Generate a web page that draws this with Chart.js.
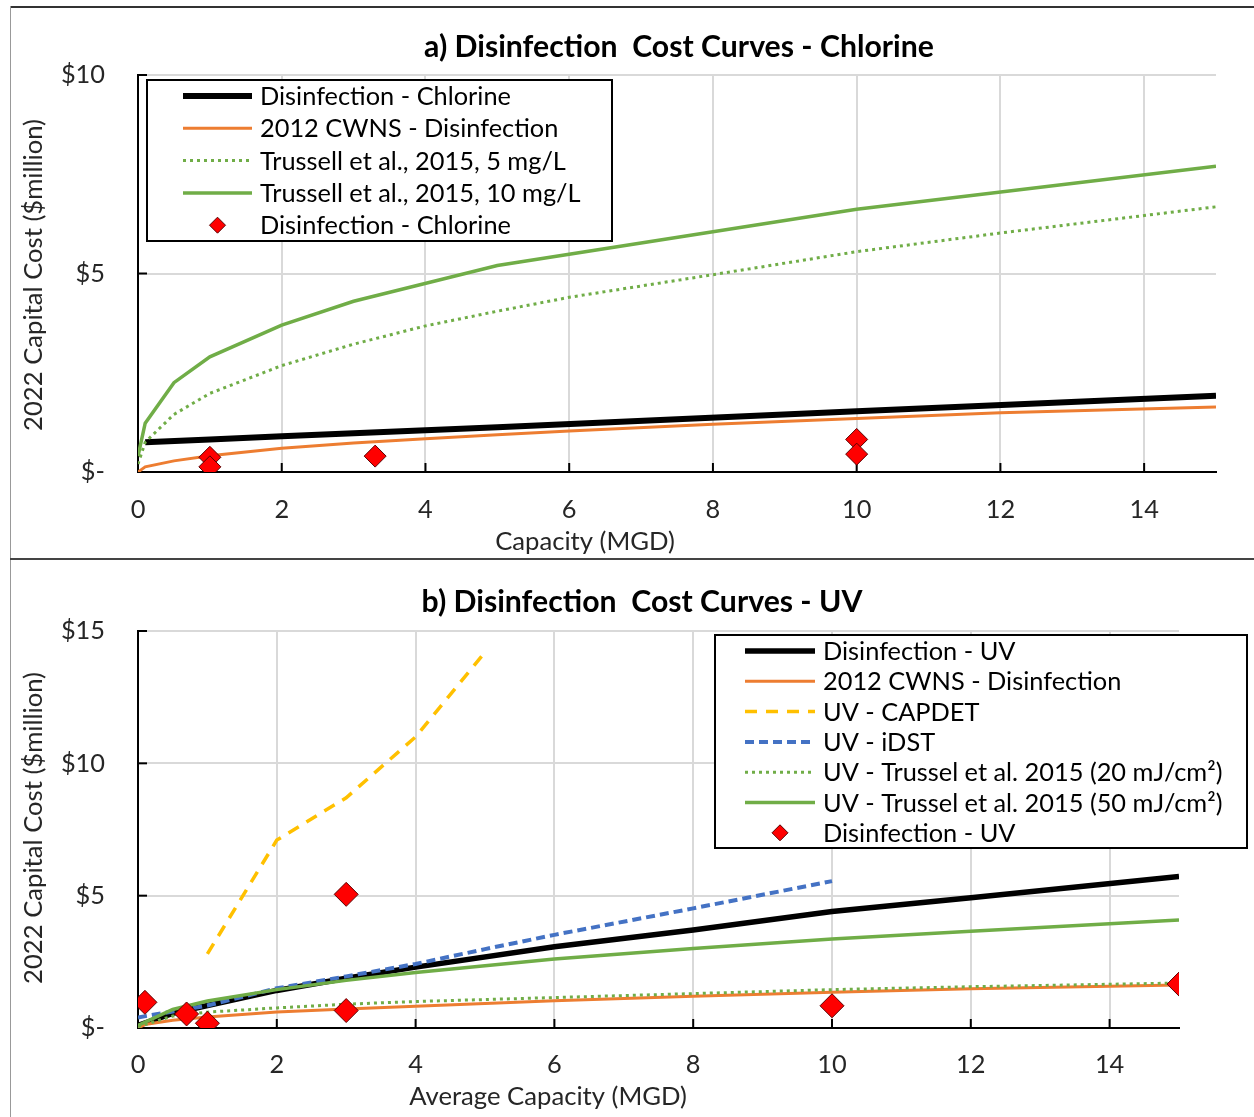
<!DOCTYPE html>
<html>
<head>
<meta charset="utf-8">
<script src="https://cdn.jsdelivr.net/npm/chart.js@4.4.0/dist/chart.umd.min.js"></script>
<style>
  body { margin: 0; background: #fff; width: 1254px; height: 1117px; overflow: hidden; position: relative; }
  canvas { position: absolute; }
  .ln { position: absolute; }
</style>
</head>
<body>
<div class="ln" style="left:10px;top:6px;width:1244px;height:2px;background:#333"></div>
<div class="ln" style="left:10px;top:6px;width:1px;height:1111px;background:#999"></div>
<div class="ln" style="left:10px;top:558px;width:1244px;height:2px;background:#444"></div>
<canvas id="chartA" width="1243" height="548" style="left:11px;top:9px"></canvas>
<canvas id="chartB" width="1243" height="556" style="left:11px;top:561px"></canvas>
<script>
// ---------- a) chlorine ----------
const chlorX = [0.1, 1, 2, 5, 10, 15];
const chlorY = [0.75, 0.82, 0.9, 1.13, 1.53, 1.92];
const cwnsAX = [0, 0.1, 0.5, 1, 2, 3, 4, 5, 6, 8, 10, 12, 15];
const cwnsAY = [0, 0.13, 0.28, 0.41, 0.6, 0.73, 0.84, 0.94, 1.03, 1.2, 1.35, 1.49, 1.64];
const truss5X = [0, 0.1, 0.5, 1, 2, 3, 4, 5, 6, 8, 10, 12, 15];
const truss5Y = [0.2, 0.75, 1.45, 1.98, 2.68, 3.22, 3.68, 4.05, 4.4, 4.97, 5.55, 6.02, 6.68];
const truss10X = [0, 0.1, 0.5, 1, 2, 3, 5, 10, 15];
const truss10Y = [0.4, 1.23, 2.25, 2.9, 3.7, 4.3, 5.2, 6.62, 7.7];
const chlorPtsX = [1, 1, 3.3, 10, 10];
const chlorPtsY = [0.37, 0.13, 0.4, 0.82, 0.45];

// ---------- b) UV ----------
const uvX = [0, 0.5, 1, 2, 3, 4, 6, 8, 10, 12, 15];
const uvY = [0.1, 0.55, 0.85, 1.42, 1.88, 2.3, 3.07, 3.7, 4.4, 4.92, 5.72];
const cwnsBX = [0, 0.1, 0.5, 1, 2, 3, 4, 5, 6, 8, 10, 12, 15];
const cwnsBY = [0, 0.13, 0.29, 0.42, 0.6, 0.72, 0.82, 0.93, 1.03, 1.2, 1.35, 1.48, 1.62];
const capdetX = [1, 2, 3, 4, 5];
const capdetY = [2.8, 7.1, 8.7, 11.0, 14.2];
const idstX = [0, 1, 2, 3, 4, 5, 6, 8, 10];
const idstY = [0.4, 0.85, 1.5, 1.95, 2.42, 2.98, 3.52, 4.52, 5.55];
const uv20X = [0, 0.5, 1, 2, 3, 4, 6, 8, 10, 12, 15];
const uv20Y = [0.05, 0.45, 0.6, 0.76, 0.9, 1.0, 1.15, 1.3, 1.45, 1.56, 1.7];
const uv50X = [0, 0.5, 1, 2, 3, 4, 6, 8, 10, 12, 15];
const uv50Y = [0.1, 0.7, 1.02, 1.45, 1.8, 2.1, 2.61, 3.0, 3.36, 3.66, 4.08];
const uvPtsX = [0.1, 0.7, 1, 3, 3, 10, 15];
const uvPtsY = [0.97, 0.53, 0.18, 5.05, 0.66, 0.84, 1.66];

const xTicks = { min: 0, max: 15, step: 2 };
const yTicksA = { min: 0, max: 10, step: 5 };
const yTicksB = { min: 0, max: 15, step: 5 };

// ---------- fonts ----------
const FAMILY = 'Lato';
const mctx = document.createElement('canvas').getContext('2d');
function fitSize(text, width, weight) {
  mctx.font = (weight || 'normal') + ' 100px ' + FAMILY;
  return 100 * width / mctx.measureText(text).width;
}
const titleSize = fitSize('a) Disinfection  Cost Curves - Chlorine', 510, 'bold');
const legendSize = fitSize('Disinfection - Chlorine', 251);
const axisTitleSize = fitSize('2022 Capital Cost ($million)', 312);
const tickSize = legendSize;

const ORANGE = '#ED7D31', GREEN = '#70AD47', YELLOW = '#FFC000', BLUE = '#4472C4';

function pairs(xs, ys) { return xs.map((x, i) => ({ x: x, y: ys[i] })); }
function line(label, xs, ys, color, width, dash, order) {
  return { label: label, data: pairs(xs, ys), showLine: true, borderColor: color, backgroundColor: color,
    borderWidth: width, borderDash: dash || [], borderCapStyle: 'butt', pointRadius: 0, tension: 0, order: order };
}
function diamonds(label, xs, ys, r) {
  return { label: label, data: pairs(xs, ys), showLine: false, pointStyle: 'rectRot', pointRadius: r,
    backgroundColor: '#FF0000', borderColor: '#5a0000', borderWidth: 1, order: 0 };
}

// titles, legend box and inward tick marks
const overlay = {
  id: 'overlay',
  beforeDatasetsDraw(chart) {
    const ctx = chart.ctx, ca = chart.chartArea, xs = chart.scales.x, ys = chart.scales.y;
    ctx.save();
    ctx.strokeStyle = '#000';
    ctx.lineWidth = 2;
    xs.ticks.forEach(t => {
      const p = xs.getPixelForValue(t.value);
      ctx.beginPath(); ctx.moveTo(p, ca.bottom); ctx.lineTo(p, ca.bottom - 9); ctx.stroke();
    });
    ys.ticks.forEach(t => {
      const p = ys.getPixelForValue(t.value);
      ctx.beginPath(); ctx.moveTo(ca.left, p); ctx.lineTo(ca.left + 9, p); ctx.stroke();
    });
    ctx.restore();
  },
  afterDraw(chart, args, o) {
    const ctx = chart.ctx;
    ctx.save();
    ctx.textAlign = 'center';
    ctx.textBaseline = 'middle';
    ctx.fillStyle = '#000';
    ctx.font = 'bold ' + titleSize + 'px ' + FAMILY;
    ctx.fillText(o.title, o.titleX, o.titleY);

    ctx.fillStyle = '#262626';
    ctx.font = axisTitleSize + 'px ' + FAMILY;
    ctx.fillText(o.xTitle, o.xTitleX, o.xTitleY);
    ctx.save();
    ctx.translate(o.yTitleX, o.yTitleY);
    ctx.rotate(-Math.PI / 2);
    ctx.fillText('2022 Capital Cost ($million)', 0, 0);
    ctx.restore();

    // legend
    const L = o.legend;
    ctx.fillStyle = '#fff';
    ctx.fillRect(L.x0, L.y0, L.x1 - L.x0, L.y1 - L.y0);
    ctx.strokeStyle = '#000';
    ctx.lineWidth = 2;
    ctx.strokeRect(L.x0, L.y0, L.x1 - L.x0, L.y1 - L.y0);
    ctx.font = legendSize + 'px ' + FAMILY;
    ctx.textAlign = 'left';
    chart.data.datasets.forEach((ds, i) => {
      const y = L.row0 + i * L.step;
      if (ds.showLine) {
        ctx.strokeStyle = ds.borderColor;
        ctx.lineWidth = ds.borderWidth;
        ctx.setLineDash(ds.borderDash);
        ctx.beginPath(); ctx.moveTo(L.s0, y); ctx.lineTo(L.s1, y); ctx.stroke();
        ctx.setLineDash([]);
      } else {
        ctx.fillStyle = ds.backgroundColor;
        ctx.strokeStyle = ds.borderColor;
        ctx.lineWidth = 1;
        Chart.helpers.drawPoint(ctx, { pointStyle: 'rectRot', radius: 8, borderWidth: 1 }, (L.s0 + L.s1) / 2, y);
      }
      ctx.fillStyle = '#000';
      ctx.fillText(ds.label, L.tx, y + 1);
    });
    ctx.restore();
  }
};

function makeOptions(yT, padTop, padRight, xH, xPad, ov) {
  const tickFont = { family: FAMILY, size: tickSize };
  return {
    responsive: false,
    animation: false,
    layout: { padding: { top: padTop, right: padRight, left: 0, bottom: 0 } },
    plugins: { legend: { display: false }, tooltip: { enabled: false }, title: { display: false }, overlay: ov },
    scales: {
      x: {
        type: 'linear', min: xTicks.min, max: xTicks.max,
        ticks: { stepSize: xTicks.step, includeBounds: false, padding: xPad, color: '#262626', font: tickFont, maxRotation: 0 },
        grid: { color: '#D9D9D9', lineWidth: 2, drawTicks: false },
        border: { color: '#000', width: 2 },
        afterFit: s => { s.height = xH; }
      },
      y: {
        type: 'linear', min: yT.min, max: yT.max,
        ticks: { stepSize: yT.step, padding: 33, color: '#262626', font: tickFont,
          callback: v => v === 0 ? '$-' : '$' + v },
        grid: { color: '#D9D9D9', lineWidth: 2, drawTicks: false },
        border: { color: '#000', width: 2 },
        afterFit: s => { s.width = 127; }
      }
    }
  };
}

new Chart(document.getElementById('chartA'), {
  type: 'scatter',
  data: {
    datasets: [
      line('Disinfection - Chlorine', chlorX, chlorY, '#000', 6, [], 10),
      line('2012 CWNS - Disinfection', cwnsAX, cwnsAY, ORANGE, 3, [], 9),
      line('Trussell et al., 2015, 5 mg/L', truss5X, truss5Y, GREEN, 3, [3, 4], 8),
      line('Trussell et al., 2015, 10 mg/L', truss10X, truss10Y, GREEN, 3.5, [], 7),
      diamonds('Disinfection - Chlorine', chlorPtsX, chlorPtsY, 11)
    ]
  },
  options: makeOptions(yTicksA, 66, 38, 85, 23, {
    title: 'a) Disinfection  Cost Curves - Chlorine', titleX: 668, titleY: 38,
    xTitle: 'Capacity (MGD)', xTitleX: 574, xTitleY: 533,
    yTitleX: 23, yTitleY: 266,
    legend: { x0: 136, y0: 71, x1: 601, y1: 232, row0: 87, step: 32.3, s0: 172, s1: 241, tx: 249 }
  }),
  plugins: [overlay]
});

new Chart(document.getElementById('chartB'), {
  type: 'scatter',
  data: {
    datasets: [
      line('Disinfection - UV', uvX, uvY, '#000', 5.5, [], 10),
      line('2012 CWNS - Disinfection', cwnsBX, cwnsBY, ORANGE, 3, [], 9),
      line('UV - CAPDET', capdetX, capdetY, YELLOW, 3.5, [12, 9], 8),
      line('UV - iDST', idstX, idstY, BLUE, 4, [9, 5], 7),
      line('UV - Trussel et al. 2015 (20 mJ/cm\u00b2)', uv20X, uv20Y, GREEN, 3, [3, 4], 6),
      line('UV - Trussel et al. 2015 (50 mJ/cm\u00b2)', uv50X, uv50Y, GREEN, 3.5, [], 5),
      diamonds('Disinfection - UV', uvPtsX, uvPtsY, 12)
    ]
  },
  options: makeOptions(yTicksB, 70, 75, 89, 22, {
    title: 'b) Disinfection  Cost Curves - UV', titleX: 631, titleY: 41,
    xTitle: 'Average Capacity (MGD)', xTitleX: 537, xTitleY: 536,
    yTitleX: 23, yTitleY: 267,
    legend: { x0: 704, y0: 74, x1: 1236, y1: 287, row0: 90, step: 30.3, s0: 734, s1: 804, tx: 812 }
  }),
  plugins: [overlay]
});
</script>
</body>
</html>
